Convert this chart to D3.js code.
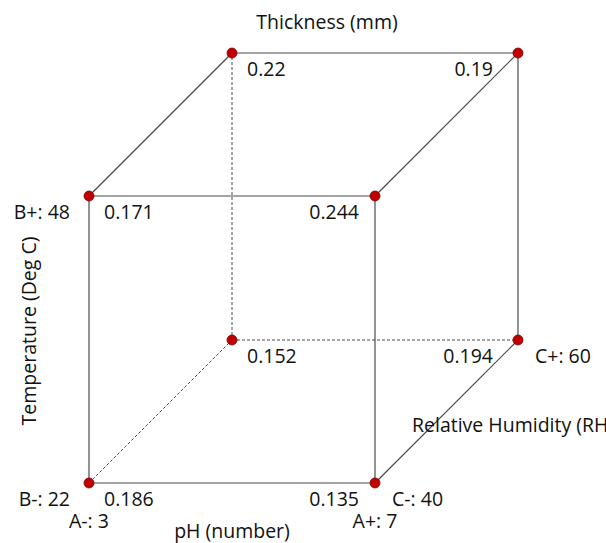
<!DOCTYPE html>
<html><head><meta charset="utf-8">
<script src="https://cdn.jsdelivr.net/npm/d3@7"></script>
<style>body{margin:0;background:#fff;}svg{display:block;}</style>
</head><body>
<svg id="chart" width="606" height="543"></svg>
<script>
// Factor levels (coded -1 / +1)
const factorA = {name: "pH (number)", low: "A-: 3", high: "A+: 7"};
const factorB = {name: "Temperature (Deg C)", low: "B-: 22", high: "B+: 48"};
const factorC = {name: "Relative Humidity (RH)", low: "C-: 40", high: "C+: 60"};
const responseName = "Thickness (mm)";
// corners: [A, B, C]
const cornerA = [-1, 1, -1, 1, -1, 1, -1, 1];
const cornerB = [-1, -1, 1, 1, -1, -1, 1, 1];
const cornerC = [-1, -1, -1, -1, 1, 1, 1, 1];
const cornerValues = ["0.186", "0.135", "0.171", "0.244", "0.152", "0.194", "0.22", "0.19"];

const svg = d3.select("#chart");
const font = "'Open Sans', 'Noto Sans', sans-serif";
const fs = 19.5;

const xA = d3.scaleLinear().domain([-1, 1]).range([89, 375]);
const yB = d3.scaleLinear().domain([-1, 1]).range([483, 196]);
const dC = d3.scaleLinear().domain([-1, 1]).range([0, 1]);
const depth = [143, -143];
const proj = (a, b, c) => [xA(a) + dC(c) * depth[0], yB(b) + dC(c) * depth[1]];

const corners = cornerValues.map((v, i) => ({a: cornerA[i], b: cornerB[i], c: cornerC[i], v}));
const hidden = (p) => p.a === -1 && p.b === -1 && p.c === 1;

// edges: pairs differing in exactly one factor
const edges = [];
for (let i = 0; i < corners.length; i++) for (let j = i + 1; j < corners.length; j++) {
  const p = corners[i], q = corners[j];
  const diff = (p.a !== q.a) + (p.b !== q.b) + (p.c !== q.c);
  if (diff === 1) edges.push({p, q, dashed: hidden(p) || hidden(q)});
}
svg.append("g").selectAll("line").data(edges).join("line")
  .attr("x1", d => proj(d.p.a, d.p.b, d.p.c)[0])
  .attr("y1", d => proj(d.p.a, d.p.b, d.p.c)[1])
  .attr("x2", d => proj(d.q.a, d.q.b, d.q.c)[0])
  .attr("y2", d => proj(d.q.a, d.q.b, d.q.c)[1])
  .attr("stroke", "#4a4a4a")
  .attr("stroke-width", d => d.dashed ? 1 : 1.2)
  .attr("stroke-dasharray", d => d.dashed ? "3,2" : null);

svg.append("g").selectAll("circle").data(corners).join("circle")
  .attr("cx", d => proj(d.a, d.b, d.c)[0])
  .attr("cy", d => proj(d.a, d.b, d.c)[1])
  .attr("r", 5)
  .attr("fill", "#c00000")
  .attr("stroke", "#7a0000")
  .attr("stroke-width", 0.8);

// value labels
svg.append("g").selectAll("text").data(corners).join("text")
  .attr("x", d => proj(d.a, d.b, d.c)[0] + (d.a < 0 ? 15 : (d.c > 0 ? -25 : -16)))
  .attr("y", d => proj(d.a, d.b, d.c)[1] + 23)
  .attr("text-anchor", d => d.a < 0 ? "start" : "end")
  .attr("font-family", font).attr("font-size", fs).attr("fill", "#111")
  .text(d => d.v);

function label(x, y, t, anchor, rot) {
  const el = svg.append("text")
    .attr("font-family", font).attr("font-size", fs).attr("fill", "#111")
    .attr("text-anchor", anchor).text(t);
  if (rot) el.attr("transform", `translate(${x},${y}) rotate(${rot})`);
  else el.attr("x", x).attr("y", y);
}
const fbl = proj(-1, -1, -1), fbr = proj(1, -1, -1), ftl = proj(-1, 1, -1), bbr = proj(1, -1, 1);
label(fbl[0] - 19, fbl[1] + 23, factorB.low, "end");
label(ftl[0] - 19, ftl[1] + 23, factorB.high, "end");
label(fbl[0], fbl[1] + 45, factorA.low, "middle");
label(fbr[0], fbr[1] + 45, factorA.high, "middle");
label((fbl[0] + fbr[0]) / 2, fbl[1] + 55, factorA.name, "middle");
label(fbr[0] + 17, fbr[1] + 23, factorC.low, "start");
label(bbr[0] + 17, bbr[1] + 23, factorC.high, "start");
label(412, 432, factorC.name, "start");
label(36, 331, factorB.name, "middle", -90);
label(327, 29, responseName, "middle");
</script>
</body></html>
